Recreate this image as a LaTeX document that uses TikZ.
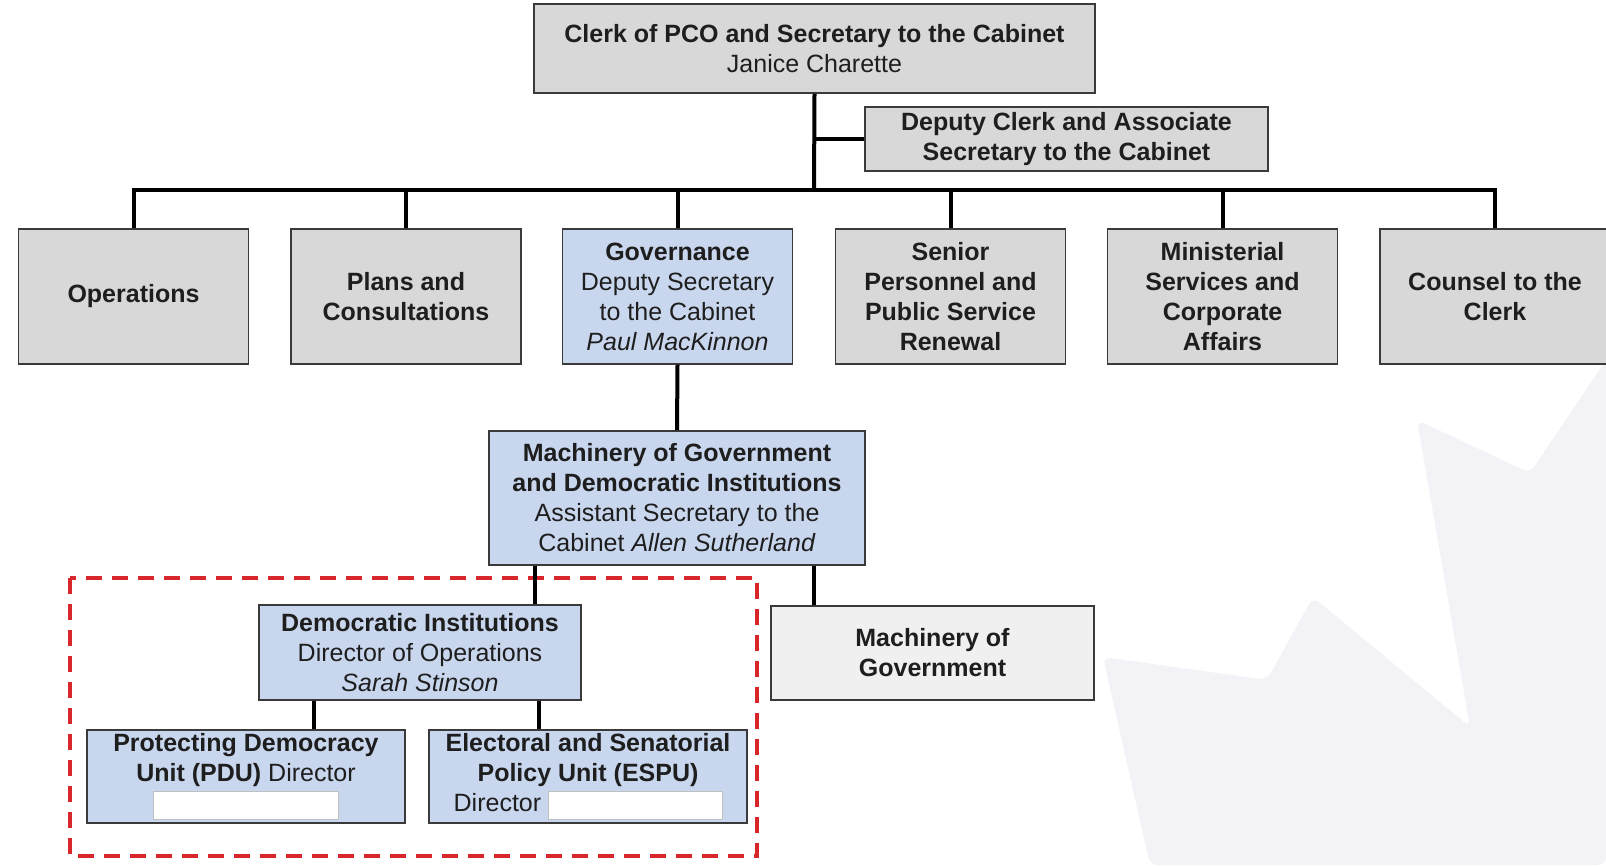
\documentclass[tikz,border=0pt]{standalone}
\usepackage{fontspec}
\setmainfont{Liberation Sans}
\usetikzlibrary{calc}
\definecolor{boxgray}{HTML}{D8D8D8}
\definecolor{boxblue}{HTML}{C9D7EE}
\definecolor{boxlight}{HTML}{F0F0F0}
\definecolor{edgegray}{HTML}{3A3A3A}
\definecolor{txtcol}{HTML}{1E1E1E}
\definecolor{dashred}{HTML}{D8262B}
\definecolor{leafgray}{HTML}{F3F3F7}
\newcommand\blankfield[1]{\raisebox{-8pt}{\setlength{\fboxsep}{0pt}\setlength{\fboxrule}{0.6pt}\fcolorbox{gray!50}{white}{\rule{0pt}{28pt}\hspace{#1}}}}
\tikzset{
  orgbox/.style={draw=edgegray, line width=1.6pt, align=center, inner sep=0pt, text=txtcol,
    font=\fontsize{25}{30}\selectfont},
  graybox/.style={orgbox, fill=boxgray},
  bluebox/.style={orgbox, fill=boxblue},
  lightbox/.style={orgbox, fill=boxlight},
  conn/.style={line width=4pt, black},
  redframe/.style={line width=4pt, dashred, dash pattern=on 16pt off 10pt},
}
\begin{document}
\begin{tikzpicture}[x=1pt, y=-1pt]
\useasboundingbox (0,0) rectangle (1606,865);
\fill[white] (0,0) rectangle (1606,865);
% faint maple-leaf watermark
\fill[leafgray, rounded corners=8pt] (1606,360) -- (1530,473) -- (1417,420) -- (1470,727) -- (1313,597) -- (1267,680) -- (1103,657) -- (1150,865) -- (1606,865) -- cycle;

% top
\node[graybox, minimum width=561, minimum height=89] (clerk) at (814.5,48.5)
  {\textbf{Clerk of PCO and Secretary to the Cabinet}\\Janice Charette};
\node[graybox, minimum width=403, minimum height=64] (deputy) at (1066.5,139)
  {\textbf{Deputy Clerk and Associate}\\\textbf{Secretary to the Cabinet}};

% row
\node[graybox, minimum width=230, minimum height=135] (ops) at (133.5,296.5) {\textbf{Operations}};
\node[graybox, minimum width=230, minimum height=135] (plans) at (406,296.5) {\textbf{Plans and}\\\textbf{Consultations}};
\node[bluebox, minimum width=230, minimum height=135] (gov) at (677.5,296.5)
  {\textbf{Governance}\\Deputy Secretary\\to the Cabinet\\\textit{Paul MacKinnon}};
\node[graybox, minimum width=230, minimum height=135] (senior) at (950.5,296.5)
  {\textbf{Senior}\\\textbf{Personnel and}\\\textbf{Public Service}\\\textbf{Renewal}};
\node[graybox, minimum width=230, minimum height=135] (minis) at (1222.5,296.5)
  {\textbf{Ministerial}\\\textbf{Services and}\\\textbf{Corporate}\\\textbf{Affairs}};
\node[graybox, minimum width=230, minimum height=135] (counsel) at (1495,296.5)
  {\textbf{Counsel to the}\\\textbf{Clerk}};

\coordinate (bar) at (814,190);

% lower levels
\node[bluebox, minimum width=376, minimum height=134] (mog) at (677,498)
  {\textbf{Machinery of Government}\\\textbf{and Democratic Institutions}\\Assistant Secretary to the\\Cabinet \textit{Allen Sutherland}};
\draw[redframe] (70,578) rectangle (757,856);
\node[bluebox, minimum width=322, minimum height=95] (di) at (420,652.5)
  {\textbf{Democratic Institutions}\\Director of Operations\\\textit{Sarah Stinson}};
\node[lightbox, minimum width=323, minimum height=94] (mach) at (932.5,653)
  {\textbf{Machinery of}\\\textbf{Government}};
\node[bluebox, minimum width=318, minimum height=93] (pdu) at (246,776.5)
  {\textbf{Protecting Democracy}\\\textbf{Unit (PDU)} Director\\\blankfield{184pt}};
\node[bluebox, minimum width=318, minimum height=93] (espu) at (588,776.5)
  {\textbf{Electoral and Senatorial}\\\textbf{Policy Unit (ESPU)}\\Director \blankfield{173pt}};

% connectors
\draw[conn] (clerk.south) -- (bar);
\draw[conn] (deputy.west) -- (deputy.west -| bar);
\foreach \n in {ops,plans,gov,senior,minis,counsel}{
  \draw[conn] (\n.north) |- (bar);
}
\draw[conn] (gov.south) -- (mog.north);
\draw[conn] ([xshift=-142pt]mog.south) -- ([xshift=115pt]di.north);
\draw[conn] ([xshift=137pt]mog.south) -- ([xshift=-118.5pt]mach.north);
\draw[conn] ([xshift=-106pt]di.south) -- ([xshift=68pt]pdu.north);
\draw[conn] ([xshift=119pt]di.south) -- ([xshift=-49pt]espu.north);
\end{tikzpicture}
\end{document}
